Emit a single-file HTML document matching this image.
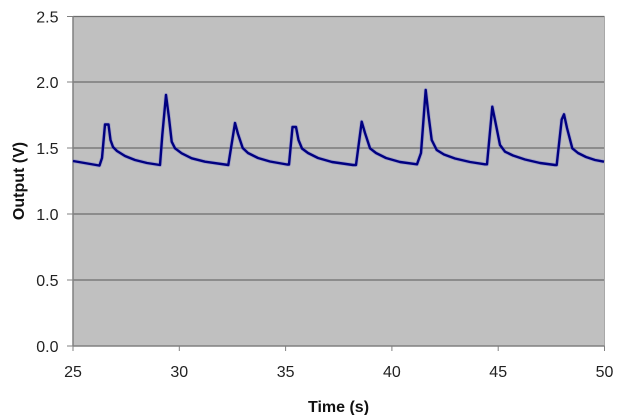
<!DOCTYPE html>
<html>
<head>
<meta charset="utf-8">
<style>
html,body{margin:0;padding:0;background:#fff;}
svg{display:block;}
</style>
</head>
<body>
<svg width="620" height="415" viewBox="0 0 620 415" xmlns="http://www.w3.org/2000/svg">
  <rect x="0" y="0" width="620" height="415" fill="#fff"/>
  <!-- plot area -->
  <rect x="73" y="16" width="531.5" height="330" fill="#c0c0c0"/>
  <!-- gridlines -->
  <g stroke="#6e6e6e" stroke-width="1.2">
    <line x1="73" y1="16.5" x2="604.5" y2="16.5"/>
    <line x1="73" y1="82" x2="604.5" y2="82"/>
    <line x1="73" y1="148" x2="604.5" y2="148"/>
    <line x1="73" y1="214" x2="604.5" y2="214"/>
    <line x1="73" y1="280" x2="604.5" y2="280"/>
  </g>
  <line x1="604.5" y1="16" x2="604.5" y2="346" stroke="#a8a8a8" stroke-width="1"/>
  <!-- axes -->
  <g stroke="#808080" stroke-width="1.5">
    <line x1="73" y1="16" x2="73" y2="346"/>
    <line x1="73" y1="346" x2="604.5" y2="346"/>
  </g>
  <!-- ticks -->
  <g stroke="#808080" stroke-width="1">
    <line x1="67" y1="16.5" x2="73" y2="16.5"/>
    <line x1="67" y1="82" x2="73" y2="82"/>
    <line x1="67" y1="148" x2="73" y2="148"/>
    <line x1="67" y1="214" x2="73" y2="214"/>
    <line x1="67" y1="280" x2="73" y2="280"/>
    <line x1="67" y1="346" x2="73" y2="346"/>
    <line x1="73" y1="346" x2="73" y2="351"/>
    <line x1="179.3" y1="346" x2="179.3" y2="351"/>
    <line x1="285.6" y1="346" x2="285.6" y2="351"/>
    <line x1="391.9" y1="346" x2="391.9" y2="351"/>
    <line x1="498.2" y1="346" x2="498.2" y2="351"/>
    <line x1="604.5" y1="346" x2="604.5" y2="351"/>
  </g>
  <!-- series -->
  <polyline fill="none" stroke="#6a6ad0" stroke-opacity="0.35" stroke-width="4" stroke-linejoin="round" points="
    73,161 99,165.5 99.5,165.5 102,158 105,124.5 108.5,124.5 110.5,140 113,147 117,151 125,156 135,160 147,163 160,165
    162.3,135 166,95 169,118 171.7,141.7 175,148.3 181.7,153.3 191.7,158.3 205,161.7 228.3,165
    235,123 238,134 242.7,148 248,153 258,158 270,161.5 287,164.5
    289,164.5 292.5,127 296,127 298.5,140 302,148.5 308,153 318,158 332,162 353,165
    356,165 361.7,121.7 365,133 370,148.3 376,153 386,158 400,162 417,164.3
    421,153 425.7,90 428.5,115 431.7,140 436.7,150 444,154.5 455,158.5 470,162 485,164.3
    487,164.3 492.3,106.7 496,125 500,145 505,151.7 513,155.5 525,159.5 540,163 555,165
    556.7,165 561.7,119.5 564,114.3 567,128 572.3,148.3 578,153 586,157 595,160 604,161.7"/>
  <polyline fill="none" stroke="#000080" stroke-width="2.4" stroke-linejoin="round" points="
    73,161 99,165.5 99.5,165.5 102,158 105,124.5 108.5,124.5 110.5,140 113,147 117,151 125,156 135,160 147,163 160,165
    162.3,135 166,95 169,118 171.7,141.7 175,148.3 181.7,153.3 191.7,158.3 205,161.7 228.3,165
    235,123 238,134 242.7,148 248,153 258,158 270,161.5 287,164.5
    289,164.5 292.5,127 296,127 298.5,140 302,148.5 308,153 318,158 332,162 353,165
    356,165 361.7,121.7 365,133 370,148.3 376,153 386,158 400,162 417,164.3
    421,153 425.7,90 428.5,115 431.7,140 436.7,150 444,154.5 455,158.5 470,162 485,164.3
    487,164.3 492.3,106.7 496,125 500,145 505,151.7 513,155.5 525,159.5 540,163 555,165
    556.7,165 561.7,119.5 564,114.3 567,128 572.3,148.3 578,153 586,157 595,160 604,161.7"/>
  <!-- y tick labels -->
  <g font-family="Liberation Sans, Arial, sans-serif" font-size="16" fill="#222" text-anchor="end">
    <text x="58.5" y="22.5">2.5</text>
    <text x="58.5" y="88">2.0</text>
    <text x="58.5" y="154">1.5</text>
    <text x="58.5" y="220">1.0</text>
    <text x="58.5" y="286">0.5</text>
    <text x="58.5" y="352">0.0</text>
  </g>
  <!-- x tick labels -->
  <g font-family="Liberation Sans, Arial, sans-serif" font-size="16" fill="#222" text-anchor="middle">
    <text x="73" y="377">25</text>
    <text x="179.3" y="377">30</text>
    <text x="285.6" y="377">35</text>
    <text x="391.9" y="377">40</text>
    <text x="498.2" y="377">45</text>
    <text x="604.5" y="377">50</text>
  </g>
  <!-- axis titles -->
  <text x="338.5" y="412" font-family="Liberation Sans, Arial, sans-serif" font-size="16" font-weight="bold" fill="#111" text-anchor="middle">Time (s)</text>
  <text transform="translate(24,181) rotate(-90)" x="0" y="0" font-family="Liberation Sans, Arial, sans-serif" font-size="16" font-weight="bold" fill="#111" text-anchor="middle">Output (V)</text>
</svg>
</body>
</html>
